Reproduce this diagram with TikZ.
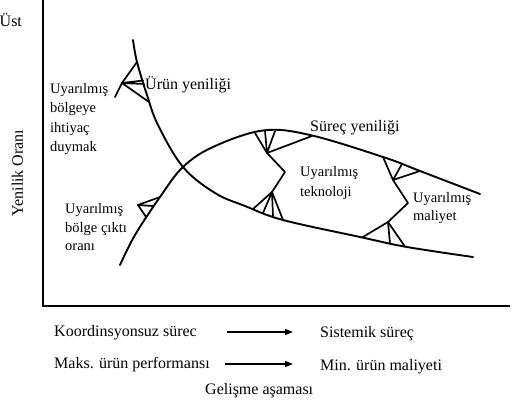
\documentclass[tikz,border=0pt]{standalone}
\usepackage{fontspec}
\setmainfont{Liberation Serif}
\usetikzlibrary{arrows.meta}
\begin{document}
\begin{tikzpicture}[x=1pt,y=-1pt,
  curve/.style={line width=1.9pt, line join=round, line cap=round},
  mk/.style={line width=1.7pt, line join=round, line cap=round},
  axis/.style={line width=2pt},
  big/.style={font=\fontsize{16}{19}\selectfont, inner sep=0pt, anchor=base west},
  small/.style={font=\fontsize{14.5}{18}\selectfont, inner sep=0pt, anchor=base west},
  arr/.style={line width=1.4pt, -{Triangle[length=8pt,width=6pt]}}]
\useasboundingbox (0,0) rectangle (525,401);

% axes
\draw[axis] (43,0) -- (43,306) -- (510,306);

% product innovation curve
\draw[curve] plot[smooth, tension=0.6] coordinates {
  (133,40) (137,62) (147,95) (158,125) (183,167) (215,193) (245,206)
  (283,220) (360,237) (407,247) (473,257)};
% process innovation curve
\draw[curve] plot[smooth, tension=0.6] coordinates {
  (120,265) (135,235) (160,197) (183,167) (213,147) (263,130.5)
  (310,135) (383,157) (420,171) (480,194)};

% marks: product curve
\coordinate (pt) at (115,97);
\coordinate (pv) at (122,83);
\coordinate (pa) at (137,62);
\coordinate (pm1) at (143,80.5);
\coordinate (pm2) at (144,84);
\coordinate (pb) at (149,102);
\draw[mk] (pt) -- (pv) -- (pa);
\draw[mk] (pm1) -- (pv) -- (pm2);
\draw[mk] (pv) -- (pb);

% mark: left on process curve
\coordinate (lv) at (138,205);
\coordinate (la) at (160,197);
\coordinate (lc) at (153,206);
\coordinate (lb) at (146,217);
\draw[mk] (la) -- (lv) -- (lb);
\draw[mk] (lv) -- (lc);

% marks: technology
\coordinate (v1) at (267,153);
\coordinate (a1) at (255,133);
\coordinate (a2) at (265,131);
\coordinate (a3) at (275,131);
\coordinate (a4) at (312,136);
\coordinate (z1) at (285,172);
\coordinate (v2) at (272,192);
\coordinate (b1) at (253,209);
\coordinate (b2) at (263,213);
\coordinate (b3) at (273,216.5);
\coordinate (b4) at (283,220);
\draw[mk] (a1) -- (v1) -- (a4);
\draw[mk] (a2) -- (v1) -- (a3);
\draw[mk] (v1) -- (z1) -- (v2);
\draw[mk] (b1) -- (v2) -- (b4);
\draw[mk] (b2) -- (v2) -- (b3);

% marks: cost
\coordinate (v3) at (393,180);
\coordinate (c1) at (383,157);
\coordinate (c2) at (402,164);
\coordinate (c3) at (420,171);
\coordinate (z2) at (408,203);
\coordinate (v4) at (388,222);
\coordinate (d1) at (362,237.5);
\coordinate (d2) at (390,243.5);
\coordinate (d3) at (405,246.6);
\draw[mk] (c1) -- (v3) -- (c3);
\draw[mk] (v3) -- (c2);
\draw[mk] (v3) -- (z2) -- (v4);
\draw[mk] (d1) -- (v4) -- (d3);
\draw[mk] (v4) -- (d2);

% labels
\node[big] (ust) at (-0.5,27) {Üst};
\node[big, anchor=base, rotate=90] (yo) at (23,173) {Yenilik Oranı};
\node[small] (l1a) at (50,94) {Uyarılmış};
\node[small] (l1b) at (50,113) {bölgeye};
\node[small] (l1c) at (50,133) {ihtiyaç};
\node[small] (l1d) at (50,152) {duymak};
\node[big] (uy) at (145,89.5) {Ürün yeniliği};
\node[small] (l2a) at (65,213) {Uyarılmış};
\node[small] (l2b) at (65,232) {bölge çıktı};
\node[small] (l2c) at (65,250) {oranı};
\node[big] (sy) at (310,131.5) {Süreç yeniliği};
\node[small] (t1) at (300,176.5) {Uyarılmış};
\node[small] (t2) at (300,196.5) {teknoloji};
\node[small] (m1) at (413,202.5) {Uyarılmış};
\node[small] (m2) at (413,220.5) {maliyet};

% bottom
\node[big] (ks) at (54,336) {Koordinsyonsuz sürec};
\node[big] (ss) at (320,337) {Sistemik süreç};
\node[big] (mp) at (54,368) {Maks. ürün performansı};
\node[big] (mm) at (320,370) {Min. ürün maliyeti};
\node[big] (ga) at (205,394) {Gelişme aşaması};
\coordinate (r1s) at (227,332);
\coordinate (r1e) at (293,332);
\coordinate (r2s) at (225,364);
\coordinate (r2e) at (293,364);
\draw[arr] (r1s) -- (r1e);
\draw[arr] (r2s) -- (r2e);
\end{tikzpicture}
\end{document}
